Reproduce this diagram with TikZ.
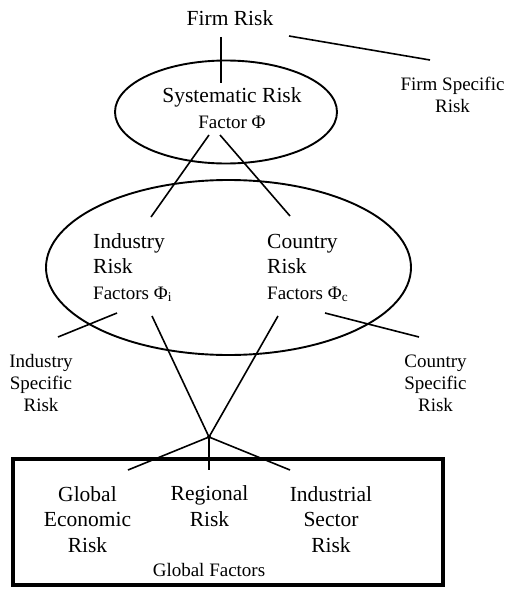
\documentclass[tikz,border=0pt]{standalone}
\usepackage{fontspec}
\setmainfont{Liberation Serif}
\usepackage{tikz}
\usetikzlibrary{shapes.geometric}

\tikzset{
  bigtext/.style={font=\fontsize{21.5}{25.5}\selectfont, inner sep=0pt, anchor=base},
  smalltext/.style={font=\fontsize{19}{22}\selectfont, inner sep=0pt, anchor=base},
  link/.style={line width=1.6pt},
  riskoval/.style={draw, ellipse, line width=1.9pt, inner sep=0pt}
}

\begin{document}
\begin{tikzpicture}[x=1pt,y=-1pt]
\useasboundingbox (0,0) rectangle (506,594);

\node [riskoval, minimum width=222pt, minimum height=103pt] (sysoval) at (226,112) {};;
\node [riskoval, minimum width=365pt, minimum height=175pt] (factoval) at (228.5,267.5) {};;
\draw [line width=4pt] (13,459) rectangle (443,585);;

\node [bigtext] (firm) at (230,26) {Firm Risk};;
\node [smalltext, align=center] (firmspec) at (452.5,112) {Firm Specific\\Risk};;
\node [bigtext] (sys) at (232,102) {Systematic Risk};;
\node [smalltext] (sysfac) at (232,128) {Factor Φ};;
\node [bigtext, align=left, anchor=base west] (ind) at (93,299) {Industry\\Risk\\{\fontsize{19}{22}\selectfont Factors Φ\textsubscript{i}}};;
\node [bigtext, align=left, anchor=base west] (ctry) at (267,299) {Country\\Risk\\{\fontsize{19}{22}\selectfont Factors Φ\textsubscript{c}}};;
\node [smalltext, align=center] (indspec) at (41,411) {Industry\\Specific\\Risk};;
\node [smalltext, align=center] (ctryspec) at (435.5,411) {Country\\Specific\\Risk};;
\node [bigtext, align=center] (glob) at (87.5,552) {Global\\Economic\\Risk};;
\node [bigtext, align=center] (reg) at (209.5,526) {Regional\\Risk};;
\node [bigtext, align=center] (sect) at (331,552) {Industrial\\Sector\\Risk};;
\node [smalltext] (globfac) at (209,576) {Global Factors};;

\coordinate (firmdown) at (221,37);
\coordinate (sysup) at (221,83);
\coordinate (firmright) at (289,36);
\coordinate (firmspecleft) at (430,60);
\coordinate (sysleft) at (209,135);
\coordinate (sysright) at (220,135);
\coordinate (indup) at (151,217);
\coordinate (ctryup) at (290,216);
\coordinate (indleft) at (117,313);
\coordinate (indspecup) at (58,337);
\coordinate (ctryright) at (325,313);
\coordinate (ctryspecup) at (419,337);
\coordinate (inddown) at (152,316);
\coordinate (ctrydown) at (278,316);
\coordinate (meet) at (209,437);
\coordinate (globup) at (128,470);
\coordinate (regup) at (209,470);
\coordinate (sectup) at (290,470);

\draw [link] (firmdown) -- (sysup);;
\draw [link] (firmright) -- (firmspecleft);;
\draw [link] (sysleft) -- (indup);;
\draw [link] (sysright) -- (ctryup);;
\draw [link] (indleft) -- (indspecup);;
\draw [link] (ctryright) -- (ctryspecup);;
\draw [link] (inddown) -- (meet);;
\draw [link] (ctrydown) -- (meet);;
\draw [link] (meet) -- (globup);;
\draw [link] (meet) -- (regup);;
\draw [link] (meet) -- (sectup);;
\fill (meet) circle [radius=2pt];;
\end{tikzpicture}
\end{document}
